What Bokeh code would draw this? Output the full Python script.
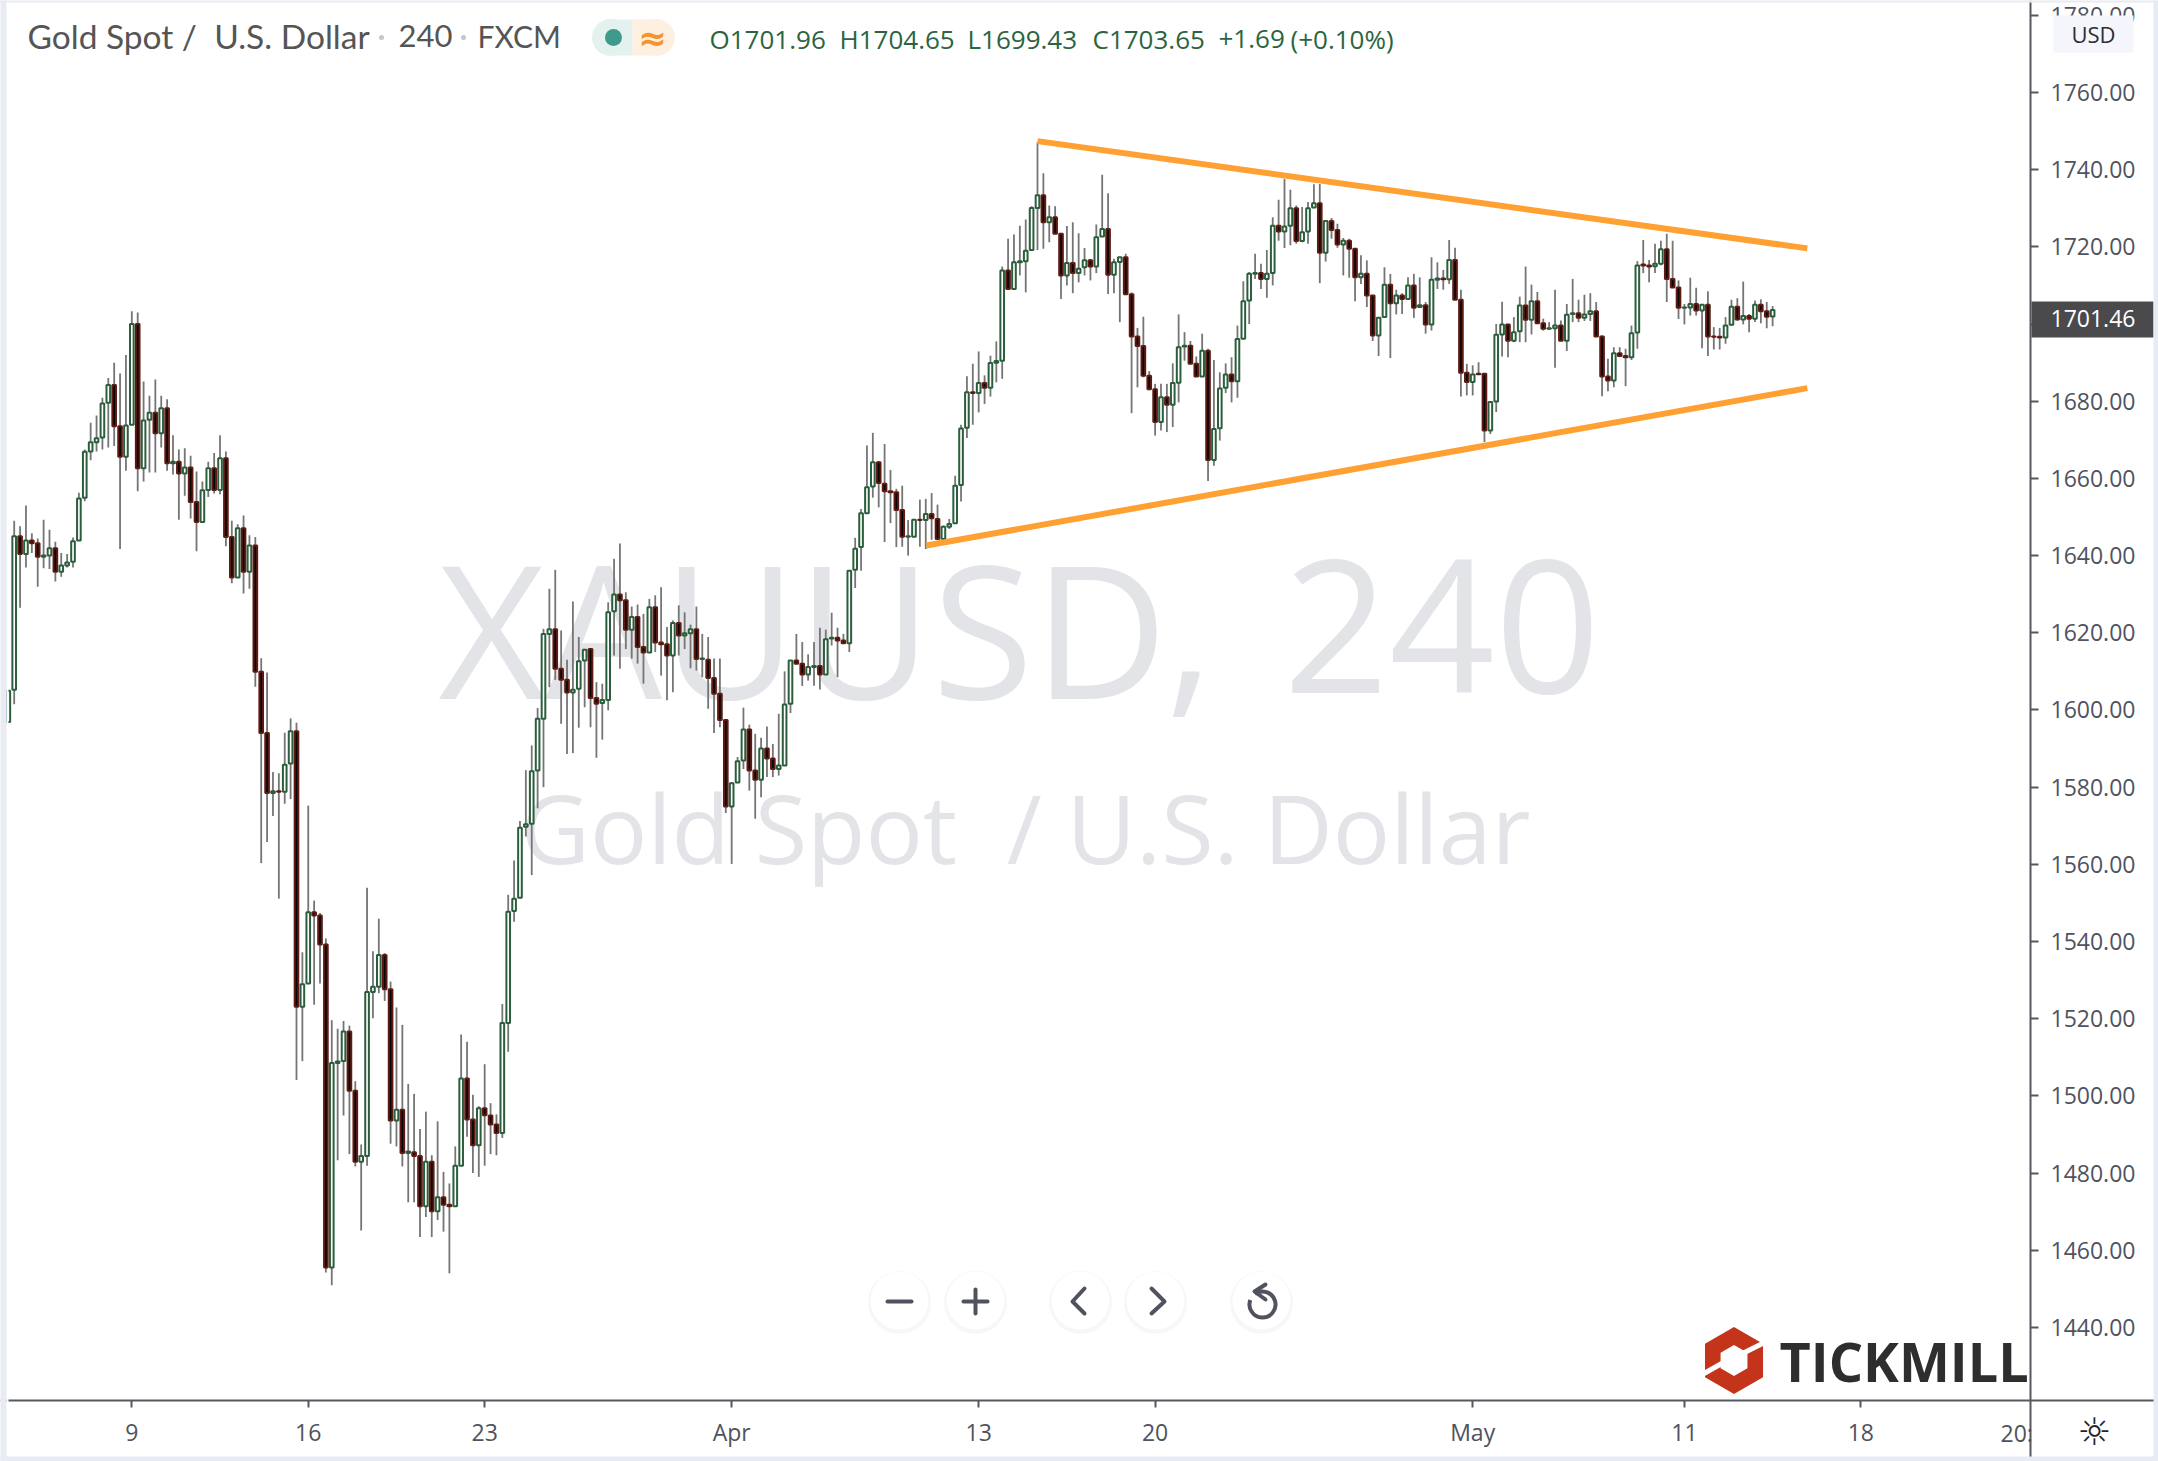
from bokeh.plotting import figure
from bokeh.embed import file_html
from bokeh.resources import INLINE
from bokeh.core.properties import value
from bokeh.models import ColumnDataSource, FixedTicker, PrintfTickFormatter, Range1d

# ---------------- data: 4-hour XAUUSD candles ----------------
open_ = [
 1596.9,1605.2,1645.0,1640.4,1643.9,1643.2,1639.7,1640.0,1641.9,1635.8,
 1637.4,1638.4,1643.9,1655.0,1667.0,1669.4,1670.6,1679.6,1684.2,1673.5,
 1665.6,1673.9,1700.0,1662.6,1675.2,1677.0,1671.7,1678.2,1663.9,1664.3,
 1661.3,1662.8,1653.9,1648.7,1657.0,1662.6,1657.0,1665.2,1644.8,1634.3,
 1647.1,1635.8,1642.6,1609.9,1594.0,1578.5,1578.9,1578.8,1586.1,1594.5,
 1523.1,1529.1,1547.6,1546.7,1539.2,1455.5,1508.5,1509.0,1516.7,1501.3,
 1482.9,1484.4,1526.9,1528.3,1536.5,1527.6,1493.6,1496.4,1485.2,1485.4,
 1484.4,1471.4,1482.9,1470.1,1473.7,1471.8,1471.4,1481.9,1504.5,1493.9,
 1487.2,1496.8,1494.9,1492.6,1490.4,1518.9,1547.9,1551.3,1569.7,1570.5,
 1584.3,1597.7,1619.7,1620.9,1610.7,1607.8,1604.5,1605.5,1612.8,1615.8,
 1603.1,1601.8,1602.6,1625.6,1629.9,1628.4,1620.8,1624.1,1616.3,1614.9,
 1626.6,1617.5,1617.0,1614.1,1622.5,1619.3,1619.9,1620.9,1613.2,1613.0,
 1608.3,1604.2,1597.4,1575.0,1581.2,1586.9,1594.9,1584.3,1581.9,1590.0,
 1587.4,1584.7,1585.6,1601.6,1612.8,1612.0,1609.2,1611.1,1611.4,1609.2,
 1618.5,1618.7,1618.0,1617.3,1636.3,1642.2,1651.0,1657.9,1664.2,1658.6,
 1656.7,1656.4,1651.8,1644.9,1644.9,1649.3,1649.2,1650.8,1649.5,1644.3,
 1647.5,1648.4,1658.3,1673.1,1682.3,1682.1,1684.7,1683.5,1690.0,1690.5,
 1713.9,1709.1,1716.0,1716.3,1719.2,1730.1,1733.4,1726.4,1727.7,1723.4,
 1712.6,1715.8,1713.2,1714.7,1716.5,1714.9,1722.7,1724.6,1712.8,1716.1,
 1717.3,1707.7,1696.8,1694.3,1686.6,1683.1,1674.6,1681.0,1679.1,1684.8,
 1694.2,1694.4,1689.7,1686.4,1693.1,1664.8,1673.0,1683.5,1686.9,1685.2,
 1696.2,1706.1,1713.0,1713.2,1711.7,1713.2,1725.5,1724.0,1725.5,1730.0,
 1721.5,1724.0,1730.2,1731.3,1718.5,1726.7,1724.4,1720.6,1721.6,1719.5,
 1712.1,1713.0,1707.4,1697.0,1701.8,1710.2,1705.4,1707.4,1706.5,1710.0,
 1704.4,1704.9,1699.9,1711.5,1711.8,1711.6,1716.6,1706.3,1687.4,1685.0,
 1687.1,1687.1,1672.4,1679.9,1697.3,1699.9,1695.7,1698.1,1704.8,1701.1,
 1705.9,1700.2,1698.8,1698.9,1699.6,1695.7,1702.6,1702.8,1701.6,1702.6,
 1703.3,1696.8,1686.4,1685.4,1692.4,1691.7,1691.4,1697.8,1715.4,1715.2,
 1715.0,1715.6,1719.4,1711.7,1709.5,1704.2,1704.3,1705.2,1703.5,1705.0,
 1696.8,1696.7,1696.5,1699.8,1704.5,1701.2,1702.1,1701.4,1705.0,1703.3,1701.96]
high = [
 1605.0,1649.0,1647.6,1653.0,1645.8,1644.4,1649.3,1646.7,1643.6,1640.7,
 1640.4,1644.7,1656.3,1667.5,1674.4,1676.3,1680.9,1686.0,1690.0,1687.2,
 1692.0,1703.3,1703.0,1685.1,1681.4,1685.6,1681.4,1680.5,1671.2,1667.5,
 1667.8,1665.9,1661.8,1659.2,1664.3,1666.6,1671.2,1667.0,1649.0,1648.1,
 1650.4,1645.3,1644.8,1613.4,1609.7,1583.9,1583.6,1594.1,1597.8,1596.7,
 1537.2,1575.2,1550.6,1547.4,1540.8,1519.6,1517.4,1519.4,1518.2,1503.8,
 1487.4,1553.9,1537.5,1545.9,1537.0,1529.6,1522.9,1518.4,1503.1,1500.5,
 1491.4,1495.9,1484.6,1493.4,1480.3,1477.3,1486.9,1515.9,1514.0,1500.3,
 1497.3,1508.2,1498.1,1495.2,1523.8,1552.1,1561.0,1571.2,1584.4,1590.8,
 1600.5,1621.0,1631.4,1636.3,1620.6,1613.0,1628.1,1618.9,1615.8,1615.8,
 1607.2,1606.8,1627.9,1639.2,1643.1,1630.5,1626.8,1627.3,1624.9,1628.8,
 1629.7,1631.8,1621.5,1623.2,1627.1,1625.3,1622.1,1626.8,1619.7,1618.9,
 1613.3,1613.3,1597.4,1581.3,1587.8,1600.6,1596.2,1593.8,1592.8,1595.7,
 1591.2,1599.0,1610.0,1612.8,1619.7,1617.6,1614.4,1617.6,1621.3,1620.8,
 1625.2,1621.3,1619.7,1636.1,1644.6,1652.1,1668.5,1671.8,1664.5,1668.9,
 1662.2,1657.3,1658.1,1649.2,1649.5,1654.5,1654.7,1656.2,1653.2,1647.8,
 1649.5,1660.7,1673.9,1686.5,1689.7,1692.9,1686.7,1691.8,1695.5,1714.9,
 1722.1,1723.2,1725.5,1727.1,1730.5,1747.1,1739.1,1730.7,1730.5,1723.4,
 1725.4,1726.4,1723.5,1719.7,1716.9,1725.8,1738.7,1733.9,1716.9,1717.3,
 1718.2,1708.2,1699.0,1701.9,1687.8,1684.5,1684.5,1684.5,1689.8,1702.5,
 1697.9,1695.6,1691.6,1697.5,1693.6,1690.7,1687.5,1689.8,1691.4,1699.6,
 1711.1,1713.5,1718.2,1715.6,1719.2,1727.7,1732.2,1737.6,1734.8,1730.7,
 1730.3,1731.6,1736.2,1736.3,1726.8,1727.5,1726.0,1722.3,1722.1,1719.7,
 1717.8,1716.5,1707.4,1701.8,1714.7,1713.0,1708.9,1708.0,1712.1,1713.0,
 1712.1,1705.7,1717.3,1716.0,1714.0,1721.8,1719.8,1708.9,1689.7,1689.3,
 1690.1,1687.3,1679.8,1700.0,1705.8,1700.0,1701.8,1707.1,1714.9,1710.2,
 1708.3,1701.4,1700.5,1708.9,1700.9,1705.2,1711.7,1706.3,1707.6,1708.0,
 1705.7,1697.0,1691.0,1694.0,1694.0,1693.6,1699.6,1716.3,1721.8,1716.6,
 1720.8,1721.6,1723.4,1721.6,1711.3,1705.2,1712.0,1709.4,1705.2,1708.5,
 1699.2,1699.0,1701.8,1706.3,1706.7,1711.0,1702.6,1706.1,1706.4,1705.7,1704.65]
low = [
 1596.9,1601.5,1626.5,1636.9,1640.7,1631.9,1636.7,1636.5,1633.3,1634.5,
 1636.9,1636.9,1643.9,1654.1,1664.7,1667.0,1667.5,1668.0,1668.4,1641.7,
 1662.0,1673.9,1656.7,1659.2,1661.5,1661.5,1668.0,1662.0,1661.0,1649.3,
 1655.5,1649.6,1641.1,1648.7,1655.2,1656.1,1655.9,1642.4,1632.8,1634.3,
 1630.2,1631.4,1606.0,1560.3,1565.8,1572.5,1551.1,1575.7,1576.9,1504.1,
 1509.0,1529.1,1523.6,1529.1,1454.2,1450.9,1483.3,1494.9,1484.9,1481.7,
 1465.1,1481.9,1520.1,1526.6,1524.6,1487.6,1486.9,1481.7,1472.4,1472.4,
 1463.4,1468.6,1463.4,1467.8,1464.8,1454.0,1471.4,1481.9,1489.4,1480.0,
 1479.0,1481.9,1484.9,1484.6,1489.1,1511.4,1545.1,1551.3,1567.2,1557.2,
 1574.5,1580.0,1605.9,1607.8,1596.4,1588.6,1588.8,1595.4,1600.7,1595.5,
 1587.6,1592.3,1599.9,1614.1,1610.7,1615.8,1613.3,1612.0,1606.8,1614.9,
 1615.0,1608.9,1602.5,1604.6,1614.1,1615.8,1610.8,1610.2,1608.5,1600.3,
 1594.0,1595.5,1573.3,1560.1,1581.2,1584.7,1579.1,1571.8,1577.4,1582.6,
 1582.6,1583.0,1585.6,1599.2,1612.0,1606.2,1607.6,1606.3,1605.3,1609.2,
 1616.7,1608.5,1617.3,1615.0,1631.6,1636.1,1651.0,1655.0,1652.5,1643.5,
 1648.4,1642.2,1642.3,1640.0,1644.8,1642.3,1641.7,1644.1,1644.1,1643.9,
 1646.9,1648.4,1654.0,1670.5,1673.9,1677.1,1679.3,1681.2,1684.9,1685.8,
 1709.1,1709.1,1712.6,1708.2,1718.9,1719.2,1719.5,1721.2,1723.4,1706.5,
 1710.0,1708.0,1710.8,1712.6,1711.3,1713.2,1722.7,1707.8,1708.0,1700.5,
 1707.7,1676.9,1683.6,1686.2,1683.1,1671.1,1672.4,1672.0,1673.3,1679.7,
 1690.5,1689.7,1686.4,1686.4,1659.3,1663.3,1669.8,1682.1,1679.7,1680.9,
 1696.2,1700.0,1711.7,1709.1,1706.8,1710.0,1721.6,1719.7,1720.4,1720.8,
 1721.2,1720.8,1730.1,1710.6,1716.2,1722.1,1719.8,1712.6,1712.0,1705.9,
 1710.4,1704.4,1695.6,1691.7,1701.8,1691.2,1702.5,1702.6,1706.3,1701.6,
 1704.2,1697.5,1698.3,1709.1,1708.9,1710.4,1706.3,1681.2,1681.5,1681.5,
 1687.0,1669.4,1671.5,1677.2,1691.6,1691.4,1695.3,1695.3,1695.3,1697.3,
 1700.2,1698.3,1698.5,1688.7,1695.6,1693.0,1700.5,1700.5,1700.8,1700.8,
 1696.6,1681.3,1682.6,1683.6,1691.7,1683.9,1690.7,1693.6,1713.2,1710.8,
 1713.2,1715.2,1705.7,1709.5,1701.3,1699.9,1702.2,1702.2,1693.7,1691.7,
 1693.4,1693.4,1694.9,1699.6,1700.9,1699.9,1697.9,1700.5,1700.2,1698.9,1699.43]
close = [
 1605.0,1645.0,1640.4,1643.9,1643.2,1639.7,1640.0,1641.9,1635.8,1637.4,
 1638.2,1643.7,1654.8,1666.9,1669.4,1670.4,1679.4,1684.2,1673.5,1665.6,
 1673.7,1700.0,1662.6,1675.0,1677.0,1671.7,1678.2,1663.9,1664.3,1661.3,
 1662.8,1653.9,1648.7,1656.9,1662.6,1657.0,1665.2,1644.8,1634.3,1647.1,
 1635.8,1642.6,1609.9,1594.0,1578.5,1578.9,1578.8,1585.8,1594.5,1523.1,
 1528.9,1547.6,1546.7,1539.2,1455.5,1508.5,1508.9,1516.7,1501.3,1482.9,
 1484.4,1526.9,1528.3,1536.5,1527.6,1493.6,1496.4,1485.2,1485.6,1484.4,
 1471.4,1482.9,1470.1,1473.7,1471.8,1471.4,1481.9,1504.5,1493.9,1487.2,
 1496.8,1495.0,1492.6,1490.4,1518.9,1547.7,1551.1,1569.5,1570.4,1584.1,
 1597.7,1619.7,1620.9,1610.7,1607.8,1604.5,1605.2,1612.6,1615.6,1603.1,
 1601.6,1602.6,1625.3,1629.9,1628.4,1620.8,1624.1,1616.3,1614.9,1626.6,
 1617.5,1617.0,1614.1,1622.5,1619.3,1619.9,1620.9,1613.2,1613.3,1608.3,
 1604.2,1597.4,1575.0,1581.0,1586.7,1594.9,1584.3,1581.9,1590.0,1587.4,
 1584.7,1585.6,1601.4,1612.8,1612.0,1609.2,1611.1,1611.4,1609.2,1618.3,
 1618.7,1618.0,1617.3,1636.1,1641.8,1651.0,1657.7,1664.2,1658.8,1656.7,
 1656.4,1651.8,1644.9,1645.0,1649.3,1649.2,1650.8,1649.7,1644.3,1647.5,
 1648.2,1658.1,1672.9,1682.3,1682.1,1684.7,1683.5,1689.9,1690.4,1713.9,
 1709.1,1716.0,1716.3,1719.0,1730.1,1733.4,1726.4,1727.7,1723.4,1712.6,
 1715.8,1713.2,1714.3,1716.5,1714.9,1722.5,1724.6,1712.8,1716.0,1717.3,
 1707.7,1696.8,1694.3,1686.6,1683.1,1674.6,1681.0,1679.1,1684.7,1694.0,
 1694.4,1689.7,1686.4,1693.1,1664.8,1672.8,1683.3,1686.9,1685.2,1696.1,
 1705.9,1713.0,1713.2,1711.7,1713.0,1725.5,1724.0,1725.3,1730.0,1721.5,
 1723.8,1730.0,1731.3,1718.5,1726.7,1724.4,1720.6,1721.6,1719.5,1712.1,
 1713.0,1707.4,1697.0,1701.6,1710.2,1705.4,1707.4,1706.5,1710.0,1704.2,
 1704.9,1699.9,1711.5,1711.8,1711.6,1716.6,1706.3,1687.4,1685.0,1686.9,
 1687.0,1672.4,1679.8,1697.2,1699.9,1695.7,1697.9,1704.8,1701.1,1705.9,
 1700.2,1698.8,1698.9,1699.6,1695.7,1702.4,1702.8,1701.6,1702.5,1703.3,
 1696.8,1686.4,1685.4,1692.4,1691.7,1691.4,1697.6,1715.2,1715.2,1714.9,
 1715.6,1719.4,1711.7,1709.5,1704.2,1704.3,1705.2,1703.5,1705.0,1696.8,
 1696.7,1696.5,1699.6,1704.5,1701.2,1702.1,1701.4,1705.0,1703.3,1701.9,1703.65]

date_ticks = [22, 52, 82, 124, 166, 196, 250, 286, 316]
date_labels = ["9", "16", "23", "Apr", "13", "20", "May", "11", "18"]
price_ticks = list(range(1440, 1781, 20))
last_price = "1701.46"
header_name = "Gold Spot\u00a0/\u00a0 U.S. Dollar"
watermark_name = "Gold Spot\u00a0 / U.S. Dollar"
header_ohlc = [("O1701.96", 709), ("H1704.65", 839), ("L1699.43", 967), ("C1703.65", 1092), ("+1.69", 1218), ("(+0.10%)", 1290)]
upper_trend_x, upper_trend_y = [176.0, 306.9], [1747.4, 1719.6]
lower_trend_x, lower_trend_y = [157.1, 306.9], [1642.6, 1683.4]

assert len(open_) == len(high) == len(low) == len(close) == 301
bars = list(range(1, 302))


# page-pixel helpers for the decoration (buttons, logo, header)
def X(px):
    return 2 + (px - 13.7) / 5.881


def Y(py):
    return 1760 - (py - 92) / 3.859


FONT = "Open Sans"
AX = "#55585f"

p = figure(width=2158, height=1461, output_backend="svg", toolbar_location=None,
           x_range=Range1d(X(0), X(2158)), y_range=Range1d(Y(1461), Y(0)),
           y_axis_location="right", min_border=0,
           background_fill_color="white", border_fill_color="white", outline_line_color=None)
p.grid.visible = False

xa, ya = p.xaxis[0], p.yaxis[0]
xa.fixed_location = Y(1400)
ya.fixed_location = X(2030)
xa.ticker = FixedTicker(ticks=date_ticks)
xa.major_label_overrides = dict(zip(date_ticks, date_labels))
ya.ticker = FixedTicker(ticks=price_ticks)
ya.formatter = PrintfTickFormatter(format="%.2f")
for ax, out, stand in ((xa, 7, 8), (ya, 8, 12)):
    ax.axis_line_color = AX
    ax.axis_line_width = 2
    ax.major_tick_line_color = AX
    ax.major_tick_line_width = 2
    ax.major_tick_out = out
    ax.major_tick_in = 0
    ax.minor_tick_line_color = None
    ax.major_label_standoff = stand
    ax.major_label_text_color = "#50535e"
    ax.major_label_text_font = FONT
    ax.major_label_text_font_size = "23px"

# watermark
MARK = dict(text_font=value(FONT), text_color="#e3e4e7", text_baseline="middle")
p.text(x=[X(438)], y=[Y(626)], text=["XAUUSD"], text_font_size="185px", text_align="left", **MARK)
p.text(x=[X(1165)], y=[Y(626)], text=[","], text_font_size="185px", text_align="left", **MARK)
p.text(x=[X(1600)], y=[Y(626)], text=["240"], text_font_size="185px", text_align="right", **MARK)
p.text(x=[X(520)], y=[Y(826)], text=[watermark_name], text_font_size="95.5px", text_align="left", **MARK)

# candles
src = ColumnDataSource(dict(x=bars, o=open_, h=high, l=low, c=close,
                            top=[max(a, b) for a, b in zip(open_, close)],
                            bottom=[min(a, b) for a, b in zip(open_, close)],
                            fill=["white" if c >= o else "#0a0505" for o, c in zip(open_, close)],
                            line=["#2b5e3c" if c >= o else "#5e1b14" for o, c in zip(open_, close)]))
p.segment(x0="x", x1="x", y0="l", y1="h", source=src, line_color="#757575", line_width=1.8)
p.vbar(x="x", width=0.62, top="top", bottom="bottom", source=src,
       fill_color="fill", line_color="line", line_width=2)

# trend lines
for tx, ty in ((upper_trend_x, upper_trend_y), (lower_trend_x, lower_trend_y)):
    p.line(tx, ty, line_color="#ffa033", line_width=6)

# header
for txt, px, fs in ((header_name, 27, "33.5px"), ("240", 398, "31px"), ("FXCM", 477, "30px")):
    p.text(x=[X(px)], y=[Y(35)], text=[txt], text_font=value("Lato"), text_font_size=fs,
           text_color="#555555", text_baseline="middle")
p.scatter(x=[X(381), X(463)], y=[Y(37)] * 2, marker="circle", size=5, fill_color="#c3c6cd", line_color=None)
# status pill
p.scatter(x=[X(610)], y=[Y(37)], marker="circle", size=37, fill_color="#e3f1ef", line_color=None)
p.scatter(x=[X(656)], y=[Y(37)], marker="circle", size=37, fill_color="#fdf0e0", line_color=None)
p.quad(left=[X(610)], right=[X(632)], top=[Y(19)], bottom=[Y(55)], fill_color="#e3f1ef", line_color=None)
p.quad(left=[X(632)], right=[X(656)], top=[Y(19)], bottom=[Y(55)], fill_color="#fdf0e0", line_color=None)
p.scatter(x=[X(613)], y=[Y(37)], marker="circle", size=17, fill_color="#3e9a8b", line_color=None)
p.text(x=[X(652)], y=[Y(37)], text=["≈"], text_font=value("DejaVu Sans"), text_font_size="34px", text_color="#f7922c",
       text_align="center", text_baseline="middle", text_font_style="bold")
for txt, px in header_ohlc:
    p.text(x=[X(px)], y=[Y(38)], text=[txt], text_font=value(FONT), text_font_size="26px",
           text_color="#2b6540", text_baseline="middle")

# round navigation buttons
btn_px = [899, 975, 1080, 1155, 1261]
p.scatter(x=[X(b) for b in btn_px], y=[Y(1302)] * 5, marker="circle", size=63, fill_color="#e8eaee",
          fill_alpha=0.4, line_color=None)
p.scatter(x=[X(b) for b in btn_px], y=[Y(1300)] * 5, marker="circle", size=58, fill_color="white", line_color=None)
G = "#50535e"
p.segment(x0=[X(887), X(963), X(975)], x1=[X(911), X(987), X(975)],
          y0=[Y(1301), Y(1301), Y(1289)], y1=[Y(1301), Y(1301), Y(1313)],
          line_color=G, line_width=4, line_cap="round")
p.line([X(1084), X(1072), X(1084)], [Y(1288), Y(1301), Y(1313)], line_color=G, line_width=4, line_cap="round", line_join="round")
p.line([X(1151), X(1164), X(1151)], [Y(1288), Y(1301), Y(1313)], line_color=G, line_width=4, line_cap="round", line_join="round")
p.arc(x=[X(1262)], y=[Y(1304)], radius=13, radius_units="screen", start_angle=-3.5, end_angle=2.2,
      direction="anticlock", line_color=G, line_width=4)
p.line([X(1265), X(1254), X(1265)], [Y(1284), Y(1291), Y(1299)], line_color=G, line_width=4, line_cap="round", line_join="round")

# logo
RED = "#c4341a"
p.scatter(x=[X(1733.5)], y=[Y(1360)], marker="hex", size=67, angle=1.5708, fill_color=RED, line_color=None)
p.scatter(x=[X(1733.5)], y=[Y(1360)], marker="hex", size=31, angle=1.5708, fill_color="white", line_color=None)
p.segment(x0=[X(1700), X(1742)], x1=[X(1723), X(1766)], y0=[Y(1375), Y(1353)], y1=[Y(1362), Y(1341)],
          line_color="white", line_width=5)
p.text(x=[X(1779)], y=[Y(1360)], text=["TICKMILL"], text_font=value("Open Sans"), text_font_style="bold",
       text_font_size="54px", text_color="#2e2e2e", text_baseline="middle")

# price tag, USD button, gear, clipped date label
TOP = dict(level="annotation")
p.quad(left=[X(2031)], right=[X(2153)], top=[Y(301)], bottom=[Y(337)], fill_color="#4a4a4d", line_color=None, **TOP)
p.text(x=[X(2050)], y=[Y(318)], text=[last_price], text_color="white", text_font=value(FONT),
       text_font_size="23px", text_baseline="middle", **TOP)
p.quad(left=[X(2053)], right=[X(2133)], top=[Y(15)], bottom=[Y(52)], fill_color="#f5f6fb", line_color=None, **TOP)
p.text(x=[X(2093)], y=[Y(33)], text=["USD"], text_color="#2e2e33", text_font=value(FONT),
       text_font_size="22px", text_align="center", text_baseline="middle", **TOP)
p.text(x=[X(2094)], y=[Y(1431)], text=["☼"], text_color="#23252b", text_font=value("DejaVu Sans"),
       text_font_size="38px", text_align="center", text_baseline="middle", **TOP)
p.text(x=[X(2000)], y=[Y(1432)], text=["20:"], text_color="#50535e", text_font=value(FONT),
       text_font_size="23px", text_baseline="middle", **TOP)

# pale frame round the chart
FRAME = "#e8ebf4"
p.quad(left=[X(6)], right=[X(8)], top=[Y(2)], bottom=[Y(1456)], fill_color="white", line_color=None, **TOP)
p.quad(left=[X(0)], right=[X(6)], top=[Y(0)], bottom=[Y(1461)], fill_color=FRAME, line_color=None, **TOP)
p.quad(left=[X(2153)], right=[X(2158)], top=[Y(0)], bottom=[Y(1461)], fill_color=FRAME, line_color=None, **TOP)
p.quad(left=[X(0)], right=[X(2158)], top=[Y(0)], bottom=[Y(2)], fill_color=FRAME, line_color=None, **TOP)
p.quad(left=[X(0)], right=[X(2158)], top=[Y(1456)], bottom=[Y(1461)], fill_color=FRAME, line_color=None, **TOP)

open("out.html", "w").write(file_html(p, INLINE))
